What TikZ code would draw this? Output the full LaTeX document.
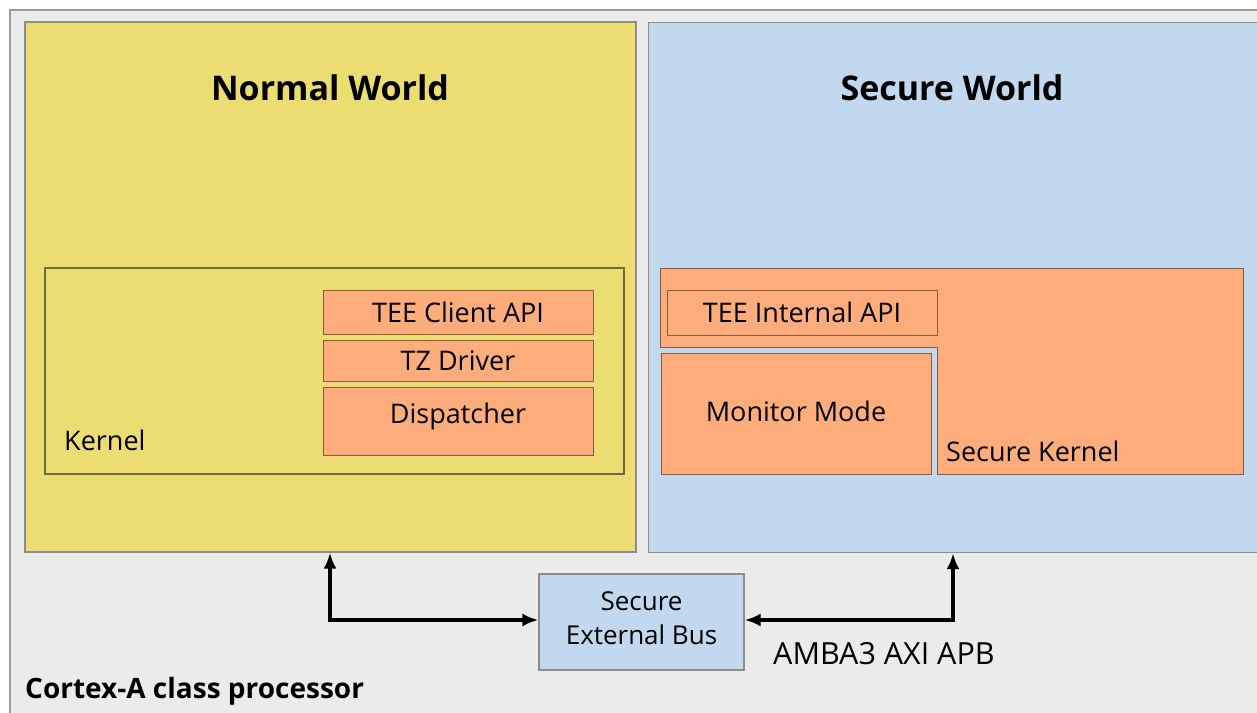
\documentclass[tikz,border=0pt]{standalone}
\usepackage{fontspec}
\setmainfont{Open Sans}
\usetikzlibrary{arrows.meta}
\definecolor{procbg}{HTML}{EBEBEB}
\definecolor{procline}{HTML}{9A9A9A}
\definecolor{nwfill}{HTML}{EBDD72}
\definecolor{swfill}{HTML}{C1D8EE}
\definecolor{orangefill}{HTML}{FDAD7B}
\definecolor{olive}{HTML}{6E6B3C}
\definecolor{brownline}{HTML}{8A5C3E}
\definecolor{worldline}{HTML}{8C8C8C}
\tikzset{
  world/.style={draw=worldline, line width=1.2pt, inner sep=0pt},
  part/.style={draw=brownline, fill=orangefill, line width=1pt, inner sep=0pt},
  title/.style={font=\fontsize{34}{40}\selectfont\bfseries, inner sep=0pt},
  lbl/.style={font=\fontsize{27}{32}\selectfont, inner sep=0pt},
  conn/.style={line width=4pt, {Latex[length=16pt,width=13pt]}-{Latex[length=16pt,width=13pt]}},
}
\begin{document}
\begin{tikzpicture}[x=1pt, y=-1pt]
\useasboundingbox (0,0) rectangle (1257,712);
% processor background
\fill[procbg] (10,10) rectangle (1270,720);
\draw[procline, line width=1.5pt] (10,720) -- (10,10) -- (1270,10);

% the two worlds
\node[world, fill=nwfill, minimum width=611pt, minimum height=530pt] (nw) at (330.5,287) {};
\node[world, fill=swfill, minimum width=620pt, minimum height=530pt, anchor=north west] (sw) at (648,22) {};
\node[title] (nwt) at (330,88) {Normal World};
\node[title] (swt) at (952,88) {Secure World};

% normal world kernel
\node[draw=olive, line width=1.2pt, minimum width=579pt, minimum height=206pt, inner sep=0pt] (kern) at (334.5,371) {};
\node[lbl, anchor=base west] (kernt) at (64,450) {Kernel};
\node[part, minimum width=270pt, minimum height=44pt] (api) at (458,312) {};
\node[lbl] (apit) at (api) {TEE Client API};
\node[part, minimum width=270pt, minimum height=41pt] (tz) at (458,360.5) {};
\node[lbl] (tzt) at (tz) {TZ Driver};
\node[part, minimum width=270pt, minimum height=68pt] (disp) at (458,421) {};
\node[lbl] (dispt) at ([yshift=5pt]disp) {Dispatcher};

% secure world kernel
\draw[draw=brownline, fill=orangefill, line width=1pt]
  (660,268) -- (1243,268) -- (1243,474) -- (937,474) -- (937,347) -- (660,347) -- cycle;
\node[lbl, anchor=base west] (skt) at (946,461) {Secure Kernel};
\node[draw=brownline, line width=1pt, fill=orangefill, minimum width=270pt, minimum height=45pt, inner sep=0pt] (iapi) at (802,312.5) {};
\node[lbl] (iapit) at (iapi) {TEE Internal API};
\node[part, minimum width=270pt, minimum height=121pt] (mon) at (796,413.5) {};
\node[lbl] (mont) at ([yshift=2pt]mon) {Monitor Mode};

% external bus
\node[world, fill=swfill, minimum width=205pt, minimum height=96pt] (bus) at (641.5,622) {};
\node[align=center, inner sep=0pt, font=\fontsize{26}{34}\selectfont] (bust) at ([yshift=4pt]bus) {Secure\\External Bus};
\coordinate (lc) at (330,620);
\coordinate (rc) at (953,620);
\draw[conn] (nw.south -| lc) -- (lc) -- (bus.west |- lc);
\draw[conn] (sw.south -| rc) -- (rc) -- (bus.east |- rc);
\node[font=\fontsize{30.5}{36}\selectfont, inner sep=0pt, anchor=base west] (amba) at (773,664) {AMBA3 AXI APB};
\node[font=\fontsize{28}{32}\selectfont\bfseries, anchor=base west, inner sep=0pt] (cpu) at (25,698) {Cortex-A class processor};
\end{tikzpicture}
\end{document}
